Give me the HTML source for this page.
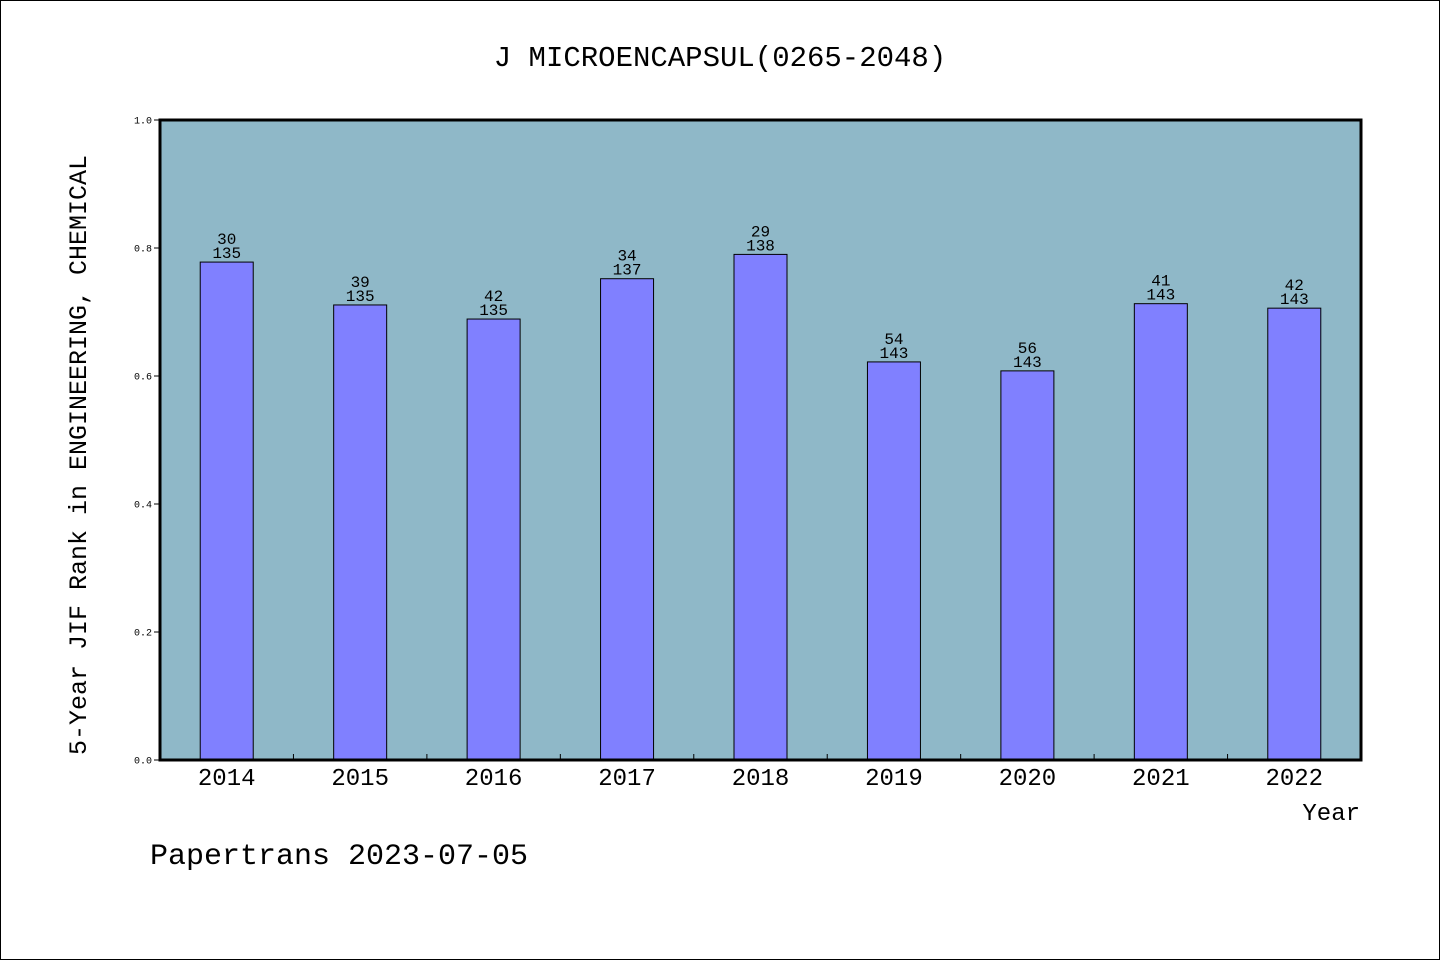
<!DOCTYPE html>
<html><head><meta charset="utf-8"><style>
html,body{margin:0;padding:0;background:#fff}
svg{display:block}
text{font-family:"Liberation Mono","Noto Sans CJK SC",monospace;fill:#000}
</style></head><body>
<svg id="chart" width="1440" height="960" viewBox="0 0 1440 960" xmlns="http://www.w3.org/2000/svg">
<rect x="0.5" y="0.5" width="1439" height="959" fill="#fff" stroke="#000"/>
<text x="720" y="66" font-size="29" text-anchor="middle">J MICROENCAPSUL(0265-2048)</text>
<rect x="160" y="120" width="1201" height="640" fill="#8fb8c8"/>
<g id="yaxis"></g>
<g id="bars"></g>
<rect x="160" y="120" width="1201" height="640" fill="none" stroke="#000" stroke-width="3"/>
<g id="xaxis"></g>
<text transform="translate(86,455) rotate(-90)" font-size="25" text-anchor="middle">5-Year JIF Rank in ENGINEERING, CHEMICAL</text>
<text x="1360" y="820" font-size="24" text-anchor="end">Year</text>
<text x="150" y="864" font-size="30">Papertrans 2023-07-05</text>
</svg>
<script>
const categories = ["2014","2015","2016","2017","2018","2019","2020","2021","2022"];
const values = [0.778, 0.711, 0.689, 0.752, 0.790, 0.622, 0.608, 0.713, 0.706];
const ranks = ["30","39","42","34","29","54","56","41","42"];
const totals = ["135","135","135","137","138","143","143","143","143"];
const yTicks = ["0.0","0.2","0.4","0.6","0.8","1.0"];

const NS = "http://www.w3.org/2000/svg";
const X0 = 160, X1 = 1361, Y0 = 760, Y1 = 120;
const band = (X1 - X0) / categories.length;
const xc = i => X0 + band * (i + 0.5);
const y = v => Y0 - (v - 0) / (1 - 0) * (Y0 - Y1);
function mk(tag, attrs, parent) {
  const e = document.createElementNS(NS, tag);
  for (const k in attrs) e.setAttribute(k, attrs[k]);
  parent.appendChild(e);
  return e;
}
const ya = document.getElementById('yaxis');
yTicks.forEach(t => {
  const yy = y(parseFloat(t));
  const l = mk('line', {x1: X0 - 6, x2: X0, y1: yy, y2: yy, stroke: '#000', 'stroke-width': 1}, ya);
  
  
  const tx = mk('text', {x: X0 - 8, y: yy + 3.5, 'font-size': 10, 'text-anchor': 'end'}, ya);
  tx.textContent = t;
  
  
});
const bg = document.getElementById('bars');
const bw = 53;
categories.forEach((c, i) => {
  const top = y(values[i]);
  const r = mk('rect', {x: xc(i) - bw / 2, y: top, width: bw, height: Y0 - top, fill: '#8080ff', stroke: '#000', 'stroke-width': 1}, bg);
  
  
  const t1 = mk('text', {x: xc(i), y: top - 4, 'font-size': 16, 'text-anchor': 'middle'}, bg);
  t1.textContent = totals[i];
  
  
  const t2 = mk('text', {x: xc(i), y: top - 18, 'font-size': 16, 'text-anchor': 'middle'}, bg);
  t2.textContent = ranks[i];
  
  
});
const xa = document.getElementById('xaxis');
categories.forEach((c, i) => {
  if (i > 0) {
    const bx = X0 + band * i;
    const l = mk('line', {x1: bx, x2: bx, y1: Y0, y2: Y0 - 6, stroke: '#000', 'stroke-width': 1}, xa);
    
    
  }
  const t = mk('text', {x: xc(i), y: 785, 'font-size': 24, 'text-anchor': 'middle'}, xa);
  t.textContent = c;
  
  
});
</script>
</body></html>
